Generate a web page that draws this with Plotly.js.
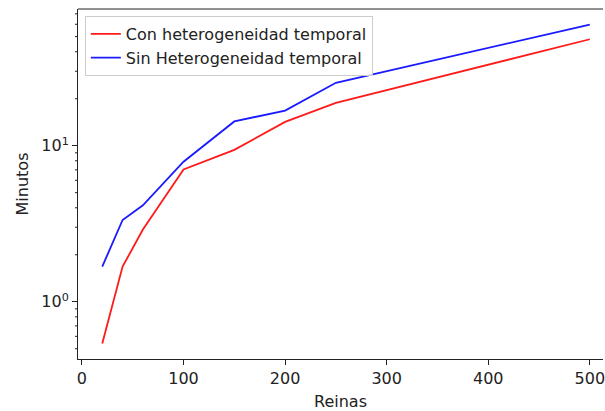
<!DOCTYPE html>
<html><head><meta charset="utf-8">
<script src="https://cdn.plot.ly/plotly-3.0.1.min.js"></script>
<style>html,body{margin:0;padding:0;background:#fff;overflow:hidden}</style>
</head><body><div id="chart" style="width:605px;height:411px"></div>
<script>
const reinas = [20, 40, 60, 100, 150, 200, 250, 500];
const conHet = [0.54, 1.68, 2.9, 7.05, 9.4, 14.2, 18.8, 48.1];
const sinHet = [1.68, 3.34, 4.15, 7.9, 14.3, 16.8, 25.3, 59.7];
const names = ['Con heterogeneidad temporal', 'Sin Heterogeneidad temporal'];
const yTickVals = [1, 10];
const yTickText = ['10<sup>0</sup>', '10<sup>1</sup>'];
const yMinorVals = [0.5, 0.6, 0.7, 0.8, 0.9, 2, 3, 4, 5, 6, 7, 8, 9, 20, 30, 40, 50, 60, 70];
const xTickVals = [0, 100, 200, 300, 400, 500];

const traces = [
  {x: reinas, y: conHet, name: names[0], mode: 'lines', line: {color: '#ff1a1a', width: 1.8}},
  {x: reinas, y: sinHet, name: names[1], mode: 'lines', line: {color: '#1a1aff', width: 1.8}}
];
const font = {family: 'DejaVu Sans, sans-serif', size: 16, color: '#222'};
const yRange = [-0.367, 1.876];
const plotW = 605 - 78 - 2;
const layout = {
  width: 605, height: 411,
  margin: {l: 78, r: 2, t: 9, b: 52},
  paper_bgcolor: '#fff', plot_bgcolor: '#fff',
  font: font,
  showlegend: true,
  legend: {x: 0.013, y: 0.98, xanchor: 'left', yanchor: 'top', bgcolor: 'rgba(255,255,255,0.8)',
           bordercolor: '#ccc', borderwidth: 1, font: font, tracegroupgap: 0, itemwidth: 30},
  xaxis: {
    range: [-3.9, 513], tickvals: xTickVals, showgrid: false, zeroline: false,
    showline: true, linecolor: '#222', linewidth: 1, mirror: false,
    ticks: 'outside', ticklen: 5, tickcolor: '#222', tickfont: font, ticklabeloverflow: 'allow',
    title: {text: 'Reinas', font: font, standoff: 8}
  },
  yaxis: {
    type: 'log', range: yRange, tickmode: 'array', tickvals: yTickVals, ticktext: yTickText,
    showgrid: false, zeroline: false, showline: true, linecolor: '#222', linewidth: 1, mirror: false,
    ticks: 'outside', ticklen: 5, tickcolor: '#222', tickfont: font,
    title: {text: 'Minutos', font: font, standoff: 8}
  },
  shapes: yMinorVals.map(v => ({type: 'line', xref: 'paper', yref: 'y', x0: -3 / plotW, x1: 0,
            y0: v, y1: v, line: {color: '#222', width: 1}})).concat([
           {type: 'line', xref: 'paper', yref: 'paper', x0: 0, x1: 1, y0: 1, y1: 1,
            line: {color: '#222', width: 1}}])
};
Plotly.newPlot('chart', traces, layout, {displayModeBar: false, staticPlot: true});
</script></body></html>
